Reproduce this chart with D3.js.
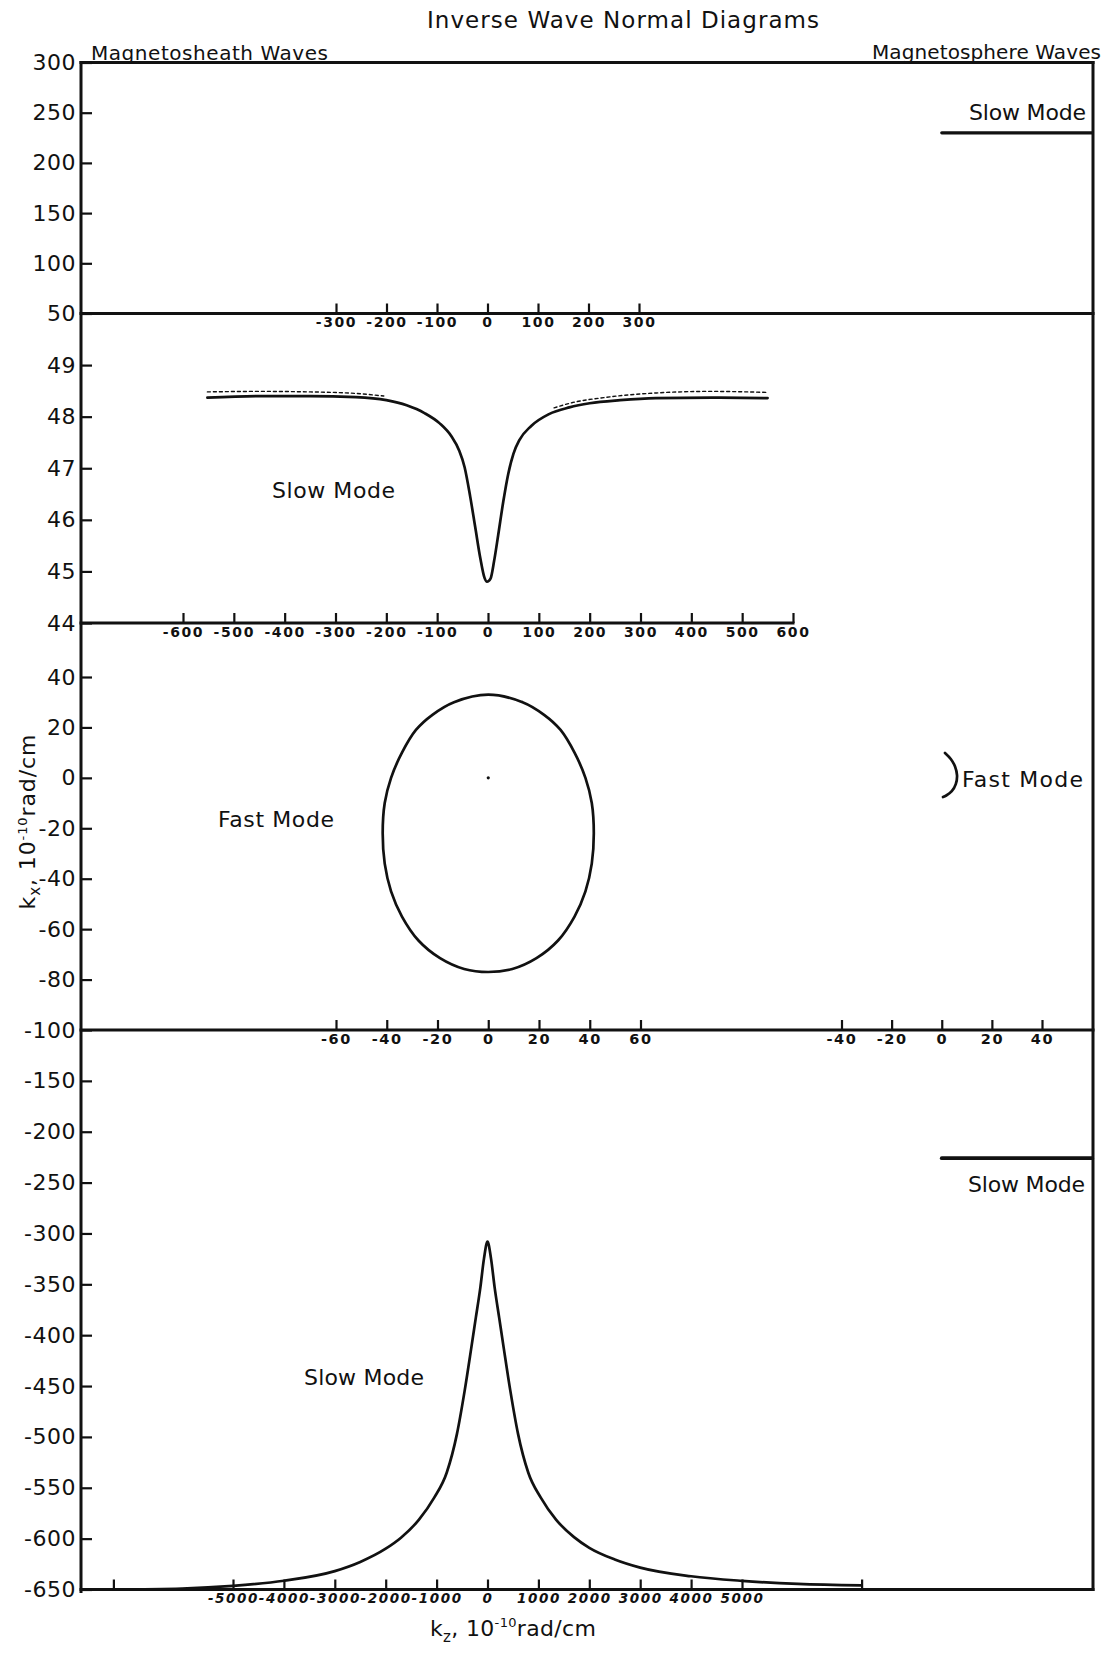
<!DOCTYPE html>
<html>
<head>
<meta charset="utf-8">
<script src="https://cdn.jsdelivr.net/npm/d3@7"></script>
<style>
  body { margin: 0; background: #fff; }
  svg { display: block; }
  text { font-family: "DejaVu Sans", sans-serif; fill: #111; }
</style>
</head>
<body>
<svg id="chart" width="1107" height="1653"></svg>
<script>
// ---- tick values, one set per band ----
const yTicksTop   = [300, 250, 200, 150, 100, 50];
const yTicksSlow  = [49, 48, 47, 46, 45, 44];
const yTicksFast  = [40, 20, 0, -20, -40, -60, -80, -100];
const yTicksDeep  = [-150, -200, -250, -300, -350, -400, -450, -500, -550, -600, -650];

const xTicksTop    = [-300, -200, -100, 0, 100, 200, 300];
const xTicksSlow   = [-600, -500, -400, -300, -200, -100, 0, 100, 200, 300, 400, 500, 600];
const xTicksFast   = [-60, -40, -20, 0, 20, 40, 60];
const xTicksSphere = [-40, -20, 0, 20, 40];
const xTicksDeep   = [-7350, -5000, -4000, -3000, -2000, -1000, 0, 1000, 2000, 3000, 4000, 5000, 7350];

// ---- magnetosheath slow mode, near-field band: [kz, kx] ----
const sheathSlowNear = [
  [-552, 48.37], [-450, 48.40], [-350, 48.40], [-260, 48.38], [-200, 48.32],
  [-160, 48.22], [-125, 48.07], [-95, 47.87], [-72, 47.62], [-57, 47.35],
  [-46, 47.02], [-35, 46.45], [-25, 45.85], [-15, 45.25], [-7, 44.88], [-2, 44.80],
  [5, 44.86], [12, 45.20], [20, 45.70], [30, 46.35], [40, 46.90], [50, 47.28],
  [62, 47.55], [85, 47.82], [120, 48.05], [160, 48.18], [200, 48.26], [260, 48.32],
  [330, 48.36], [440, 48.37], [550, 48.36]
];
// dotted companion branches just above the flat wings
const sheathSlowDotLeft = [[-552, 48.48], [-450, 48.49], [-350, 48.48], [-260, 48.45], [-205, 48.40]];
const sheathSlowDotRight = [[130, 48.17], [165, 48.27], [228, 48.37], [332, 48.46], [437, 48.49], [550, 48.47]];

// ---- magnetosheath fast mode: closed curve [kz, kx] ----
const sheathFast = [
  [0, 33], [13.5, 30], [22, 25], [28.5, 19], [34, 10], [38.3, 0], [40.8, -10],
  [41.6, -22], [40.8, -34], [38.3, -45], [34, -55], [27.5, -64.5], [19, -71.5], [9.5, -75.8],
  [0, -77], [-9.5, -75.8], [-19, -71.5], [-27.5, -64.5], [-34, -55], [-38.3, -45],
  [-40.8, -34], [-41.6, -22], [-40.8, -10], [-38.3, 0], [-34, 10], [-28.5, 19],
  [-22, 25], [-13.5, 30]
];
const origin = [[0, 0]];

// ---- magnetosheath slow mode, far band: [kz, kx] ----
const sheathSlowFar = [
  [-7350, -650], [-6000, -649], [-5000, -646.4], [-4000, -641.4], [-3000, -631.9],
  [-2500, -622.9], [-2000, -609.9], [-1700, -599.1], [-1350, -581.6], [-1050, -560],
  [-800, -535], [-600, -497], [-450, -455], [-320, -413], [-230, -383],
  [-140, -353], [-70, -325], [0, -308], [70, -325], [140, -353], [230, -383],
  [320, -413], [450, -455], [600, -497], [800, -535], [1050, -560], [1350, -581.6],
  [1700, -598.5], [2000, -609], [2500, -620.5], [3000, -628.5], [4000, -637],
  [5000, -641.5], [6100, -644.5], [7350, -646]
];

// ---- magnetosphere waves: [kz, kx] ----
const sphereSlowUpper = [[0, 230], [60, 230]];
const sphereSlowLower = [[0, -226], [60, -226]];
const sphereFast = [[1.3, 9.9], [3.6, 7.5], [5.3, 4.5], [6.1, 1], [5.6, -2.5], [4, -5.3], [1.8, -7], [0.5, -7.6]];

// ---- layout ----
const frame = { left: 81, right: 1093, top: 62.5, bottom: 1589.5 };
const ink = "#111";
const svg = d3.select("#chart");

const yTop  = d3.scaleLinear().domain([50, 300]).range([313.5, frame.top]);
const ySlow = d3.scaleLinear().domain([44, 50]).range([623, 313.5]);
const yFast = d3.scaleLinear().domain([-100, 40]).range([1030, 677]);
const yDeep = d3.scaleLinear().domain([-650, -100]).range([frame.bottom, 1030]);

const xTop    = d3.scaleLinear().domain([-300, 300]).range([336, 639]);
const xSlow   = d3.scaleLinear().domain([-600, 600]).range([183, 793]);
const xFast   = d3.scaleLinear().domain([-60, 60]).range([336, 640.5]);
const xSphere = d3.scaleLinear().domain([-40, 40]).range([841.5, 1042]);
const xDeep   = d3.scaleLinear().domain([-5000, 5000]).range([233, 742]);

// ---- frame ----
const frameG = svg.append("g").attr("stroke", ink).attr("stroke-width", 3).attr("stroke-linecap", "square");
const hLines = [
  [frame.left, frame.right, yTop(300)],
  [frame.left, frame.right, yTop(50)],
  [frame.left, xSlow(600), ySlow(44)],
  [frame.left, frame.right, yFast(-100)],
  [frame.left, frame.right, yDeep(-650)]
];
frameG.selectAll("line.h").data(hLines).join("line").attr("class", "h")
  .attr("x1", d => d[0]).attr("x2", d => d[1]).attr("y1", d => d[2]).attr("y2", d => d[2]);
frameG.append("line").attr("x1", frame.left).attr("x2", frame.left).attr("y1", frame.top).attr("y2", frame.bottom + 2);
frameG.append("line").attr("x1", frame.right).attr("x2", frame.right).attr("y1", frame.top).attr("y2", frame.bottom);

// ---- axes ----
function yAxis(scale, values) {
  const g = svg.append("g").attr("transform", `translate(${frame.left},0)`)
    .call(d3.axisLeft(scale).tickValues(values).tickSize(-11).tickPadding(5).tickFormat(d => String(d)));
  g.select(".domain").remove();
  g.attr("font-family", "DejaVu Sans").attr("font-size", 22);
  g.selectAll(".tick line").attr("stroke", ink).attr("stroke-width", 2.2);
  g.selectAll(".tick text").attr("fill", ink).attr("letter-spacing", 0.5);
}
function xAxis(scale, values, y, size, italic, fmt) {
  const g = svg.append("g").attr("transform", `translate(0,${y})`)
    .call(d3.axisBottom(scale).tickValues(values).tickSize(-10).tickPadding(4)
      .tickFormat(fmt || (d => String(d))));
  g.select(".domain").remove();
  g.attr("font-family", "DejaVu Sans").attr("font-size", size).attr("font-weight", "bold");
  g.selectAll(".tick line").attr("stroke", ink).attr("stroke-width", 2.2);
  g.selectAll(".tick text").attr("fill", ink).attr("letter-spacing", 1.6)
    .attr("font-style", italic ? "italic" : null);
}

yAxis(yTop, yTicksTop);
yAxis(ySlow, yTicksSlow);
yAxis(yFast, yTicksFast);
yAxis(yDeep, yTicksDeep);

xAxis(xTop, xTicksTop, yTop(50), 14, false);
xAxis(xSlow, xTicksSlow, ySlow(44), 14, false);
xAxis(xFast, xTicksFast, yFast(-100), 14.5, false);
xAxis(xSphere, xTicksSphere, yFast(-100), 14.5, false);
xAxis(xDeep, xTicksDeep, yDeep(-650), 13.5, true, d => Math.abs(d) > 5000 ? "" : String(d));

// ---- curves ----
const curveG = svg.append("g").attr("fill", "none").attr("stroke", ink).attr("stroke-linejoin", "round").attr("stroke-linecap", "round");

const lineSlow = d3.line().x(d => xSlow(d[0])).y(d => ySlow(d[1])).curve(d3.curveMonotoneX);
curveG.append("path").attr("d", lineSlow(sheathSlowNear)).attr("stroke-width", 2.7);
curveG.selectAll("path.dot").data([sheathSlowDotLeft, sheathSlowDotRight]).join("path")
  .attr("class", "dot").attr("d", lineSlow).attr("stroke-width", 1.4).attr("stroke-dasharray", "3 3");

const lineFast = d3.line().x(d => xFast(d[0])).y(d => yFast(d[1])).curve(d3.curveCatmullRomClosed);
curveG.append("path").attr("d", lineFast(sheathFast)).attr("stroke-width", 2.7);
svg.selectAll("circle.origin").data(origin).join("circle").attr("class", "origin")
  .attr("cx", d => xFast(d[0])).attr("cy", d => yFast(d[1])).attr("r", 1.6).attr("fill", ink);

const lineDeep = d3.line().x(d => xDeep(d[0])).y(d => yDeep(d[1])).curve(d3.curveMonotoneX);
curveG.append("path").attr("d", lineDeep(sheathSlowFar)).attr("stroke-width", 2.7);

const lineSphereTop = d3.line().x(d => xSphere(d[0])).y(d => yTop(d[1]));
curveG.append("path").attr("d", lineSphereTop(sphereSlowUpper)).attr("stroke-width", 3.2);
const lineSphereDeep = d3.line().x(d => xSphere(d[0])).y(d => yDeep(d[1]));
curveG.append("path").attr("d", lineSphereDeep(sphereSlowLower)).attr("stroke-width", 3.8);
const lineSphereFast = d3.line().x(d => xSphere(d[0])).y(d => yFast(d[1])).curve(d3.curveCatmullRom);
curveG.append("path").attr("d", lineSphereFast(sphereFast)).attr("stroke-width", 2.7);

// ---- text ----
function label(txt, x, y, size, len) {
  return svg.append("text").attr("x", x).attr("y", y).attr("font-size", size)
    .attr("textLength", len).attr("lengthAdjust", "spacing").text(txt);
}
label("Inverse Wave Normal Diagrams", 427, 28, 23, 392);
label("Magnetosheath Waves", 91, 60, 20, 237);
label("Magnetosphere Waves", 872, 59, 20, 229);
label("Slow Mode", 969, 120, 22, 117);
label("Slow Mode", 272, 498, 22, 123);
label("Fast Mode", 218, 827, 22, 116);
label("Fast Mode", 962, 787, 22, 121);
label("Slow Mode", 968, 1192, 22, 117);
label("Slow Mode", 304, 1385, 22, 120);

// axis titles
const yTitle = svg.append("text").attr("transform", "translate(35,822) rotate(-90)")
  .attr("text-anchor", "middle").attr("font-size", 22)
  .attr("textLength", 175).attr("lengthAdjust", "spacing");
yTitle.append("tspan").text("k");
yTitle.append("tspan").attr("dy", 5).attr("font-size", 15).text("x");
yTitle.append("tspan").attr("dy", -5).text(", 10");
yTitle.append("tspan").attr("dy", -8).attr("font-size", 13).text("-10");
yTitle.append("tspan").attr("dy", 8).text("rad/cm");

const xTitle = svg.append("text").attr("x", 430).attr("y", 1636).attr("font-size", 22)
  .attr("textLength", 166).attr("lengthAdjust", "spacing");
xTitle.append("tspan").text("k");
xTitle.append("tspan").attr("dy", 6).attr("font-size", 15).text("z");
xTitle.append("tspan").attr("dy", -6).text(", 10");
xTitle.append("tspan").attr("dy", -9).attr("font-size", 13).text("-10");
xTitle.append("tspan").attr("dy", 9).text("rad/cm");
</script>
</body>
</html>
